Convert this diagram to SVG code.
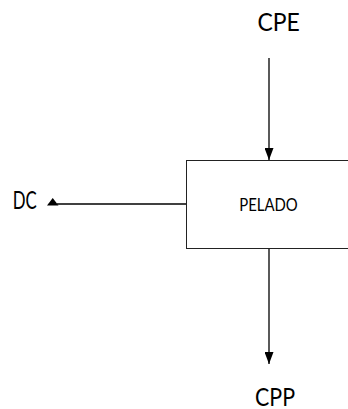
<svg xmlns="http://www.w3.org/2000/svg" width="348" height="409" viewBox="0 0 348 409">
  <style>
    .lbl { font-family: Lato, "Liberation Sans", sans-serif; fill: #000; }
    .big { font-size: 24.5px; }
    .small { font-size: 16.5px; }
    .box { fill: #fff; stroke: #222; stroke-width: 1; }
    .conn { stroke: #000; stroke-width: 1.3; fill: none; }
    .head { fill: #000; stroke: none; }
  </style>
  <defs>
    <marker id="arrow" viewBox="0 0 12 9" refX="12" refY="4.5" markerWidth="12" markerHeight="9" markerUnits="userSpaceOnUse" orient="auto">
      <path d="M0,0 L12,4.5 L0,9 Z" class="head"/>
    </marker>
  </defs>
  <g id="connectors">
    <line class="conn" x1="269" y1="58" x2="269" y2="160" marker-end="url(#arrow)"/>
    <line class="conn" x1="269" y1="249" x2="269" y2="364" marker-end="url(#arrow)"/>
    <line class="conn" x1="186.5" y1="204" x2="57" y2="204"/>
    <polygon class="head" points="47,205.5 52.7,198 58.5,205.5"/>
  </g>
  <g id="pelado">
    <rect class="box" x="186.5" y="160.5" width="165" height="88"/>
    <text class="lbl small" x="239.3" y="210.7" textLength="58.5" lengthAdjust="spacingAndGlyphs">PELADO</text>
  </g>
  <g id="cpe">
    <text class="lbl big" x="257.5" y="30.5" textLength="42.3" lengthAdjust="spacingAndGlyphs">CPE</text>
  </g>
  <g id="cpp">
    <text class="lbl big" x="255" y="405.5" textLength="40" lengthAdjust="spacingAndGlyphs">CPP</text>
  </g>
  <g id="dc">
    <text class="lbl big" x="12.7" y="209" textLength="24" lengthAdjust="spacingAndGlyphs">DC</text>
  </g>
</svg>
